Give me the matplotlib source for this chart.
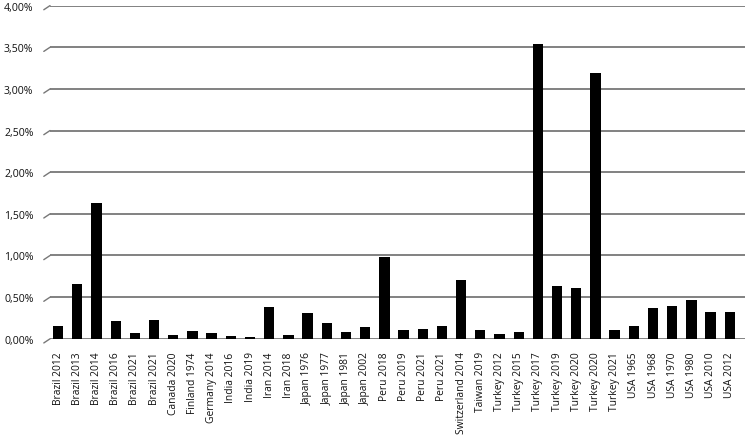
import matplotlib.pyplot as plt
import numpy as np
from matplotlib.ticker import FuncFormatter

categories = [
    "Brazil 2012", "Brazil 2013", "Brazil 2014", "Brazil 2016", "Brazil 2021", "Brazil 2021",
    "Canada 2020", "Finland 1974", "Germany 2014", "India 2016", "India 2019", "Iran 2014",
    "Iran 2018", "Japan 1976", "Japan 1977", "Japan 1981", "Japan 2002", "Peru 2018",
    "Peru 2019", "Peru 2021", "Peru 2021", "Switzerland 2014", "Taiwan 2019", "Turkey 2012",
    "Turkey 2015", "Turkey 2017", "Turkey 2019", "Turkey 2020", "Turkey 2020", "Turkey 2021",
    "USA 1965", "USA 1968", "USA 1970", "USA 1980", "USA 2010", "USA 2012",
]
values = [
    0.15, 0.66, 1.63, 0.21, 0.07, 0.23,
    0.04, 0.09, 0.07, 0.03, 0.02, 0.38,
    0.05, 0.31, 0.19, 0.08, 0.14, 0.98,
    0.11, 0.12, 0.15, 0.71, 0.11, 0.06,
    0.08, 3.54, 0.63, 0.61, 3.19, 0.10,
    0.15, 0.37, 0.39, 0.47, 0.32, 0.32,
]
yticks = [0.0, 0.5, 1.0, 1.5, 2.0, 2.5, 3.0, 3.5, 4.0]

plt.rcParams["font.family"] = ["Open Sans", "DejaVu Sans"]

fig = plt.figure(figsize=(7.47, 4.39), dpi=100)
ax = fig.add_axes([0.067, 0.226, 0.93, 0.759])

x = np.arange(len(values))
ax.bar(x, values, width=0.54, color="black", zorder=3)

ax.set_ylim(0, 4.0)
ax.set_xlim(-0.42, 35.78)
ax.set_yticks(yticks)
ax.yaxis.set_major_formatter(FuncFormatter(lambda v, _: f"{v:.2f}%".replace(".", ",")))
ax.set_xticks(x, categories, rotation=90)
ax.tick_params(axis="y", length=0, pad=12, labelsize=7.6, colors="#111111")
ax.tick_params(axis="x", length=0, pad=9, labelsize=7.4, colors="#111111")
ax.grid(axis="y", color="#777777", lw=1.3, zorder=0)
for s in ax.spines.values():
    s.set_visible(False)

# slanted floor stubs at the left of each gridline
for y in yticks:
    ax.annotate("", xy=(0, y), xycoords=("axes fraction", "data"),
                xytext=(-4.5, -3), textcoords="offset points",
                arrowprops=dict(arrowstyle="-", color="#777777", lw=1.0,
                                shrinkA=0, shrinkB=0))

fig.savefig("out.png", dpi=100)
